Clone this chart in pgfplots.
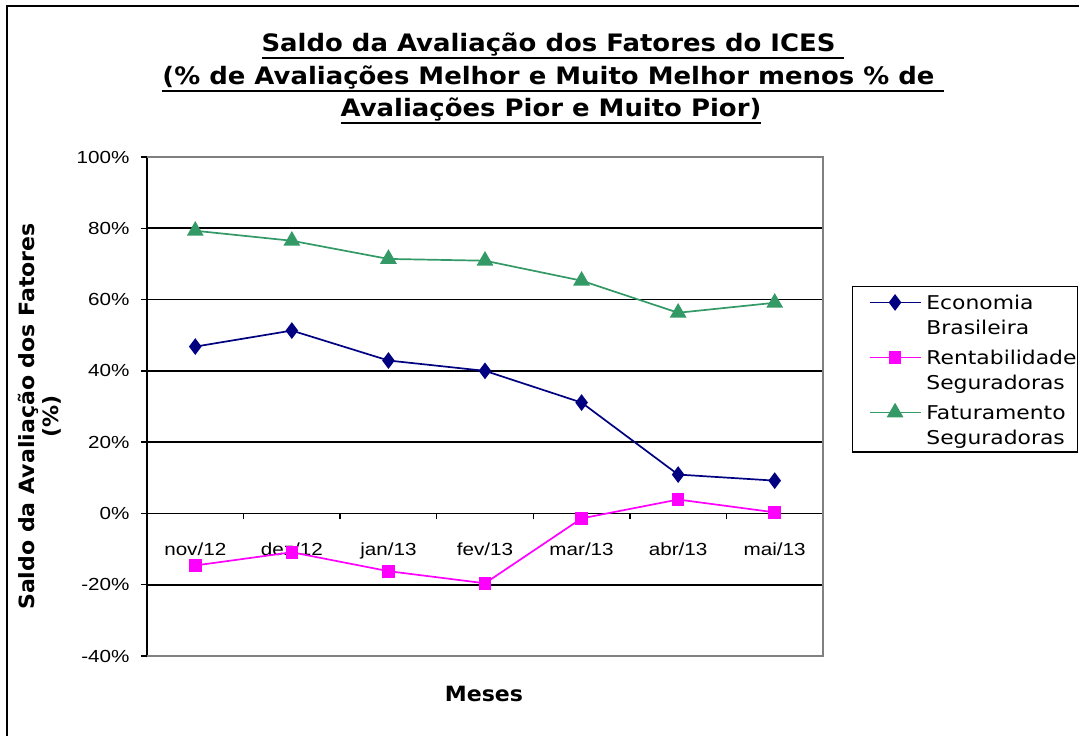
\documentclass[border=0pt]{standalone}
\usepackage{fontspec}
\usepackage{pgfplots}
\pgfplotsset{compat=1.18}
\setmainfont{DejaVu Sans}
\newfontfamily\titlefont[FakeStretch=1.08]{DejaVu Sans}
\newfontfamily\labfont[FakeStretch=1.05]{DejaVu Sans}
\newfontfamily\legfont[FakeStretch=1.15]{DejaVu Sans}
\newfontfamily\tickfont[FakeStretch=1.18]{Liberation Sans}
\definecolor{econ}{RGB}{0,0,128}
\definecolor{rent}{RGB}{255,0,255}
\definecolor{fat}{RGB}{51,153,102}
\newcommand\ul[1]{\setbox0\hbox{#1}\rlap{\rule[-7pt]{\wd0}{2pt}}\box0}
\begin{document}
\begin{tikzpicture}[x=1pt,y=1pt]
\useasboundingbox (0,0) rectangle (1079,736);
\draw[line width=2pt] (7,-10) -- (7,730) -- (1100,730);
\begin{scope}[font=\titlefont\bfseries\fontsize{24}{32.5}\selectfont]
\node[anchor=base] at (553,684) {\ul{Saldo da Avaliação dos Fatores do ICES\ }};
\node[anchor=base] at (553,651) {\ul{(\% de Avaliações Melhor e Muito Melhor menos \% de\ }};
\node[anchor=base] at (551,619) {\ul{Avaliações Pior e Muito Pior)}};
\end{scope}
\begin{axis}[
  at={(147pt,80pt)}, anchor=south west, scale only axis,
  width=676pt, height=499pt,
  xmin=-0.5, xmax=6.5, ymin=-40, ymax=100,
  axis x line=middle, axis y line=left,
  axis line style={-, black, line width=1.6pt},
  xtick={0,...,6},
  xticklabels={nov/12,dez/12,jan/13,fev/13,mar/13,abr/13,mai/13},
  major x tick style={draw=none},
  minor xtick={-0.5,0.5,...,6.5},
  minor x tick style={black,line width=1.3pt},
  ytick={-40,-20,...,100},
  yticklabels={-40\%,-20\%,0\%,20\%,40\%,60\%,80\%,100\%},
  ytick style={black,line width=1.3pt},
  tick align=outside, major tick length=6pt, minor tick length=6pt,
  ymajorgrids, major grid style={black,line width=1.6pt},
  ticklabel style={font=\tickfont\fontsize{17.5}{20}\selectfont},
  xticklabel style={yshift=-20pt},
  yticklabel style={xshift=-8pt},
  hide obscured x ticks=false, hide obscured y ticks=false,
  xlabel={Meses},
  ylabel={Saldo da Avaliação dos Fatores\\(\%)},
  every axis x label/.style={at={(axis description cs:0.4985,-0.076)}, anchor=center, font=\labfont\bfseries\fontsize{21}{24}\selectfont},
  every axis y label/.style={at={(axis description cs:-0.158,0.48)}, anchor=center, rotate=90, align=center, font=\labfont\bfseries\fontsize{21}{24}\selectfont},
  clip=false,
  legend cell align=left,
  legend image code/.code={\path (-15pt,12pt);\draw[#1,mark repeat=2,mark phase=2] plot coordinates {(0pt,12pt) (25.5pt,12pt) (51pt,12pt)};},
  legend style={at={(axis description cs:1.0429,0.7415)}, anchor=north west,
    draw=black, line width=1.4pt, inner xsep=1pt, inner ysep=4pt,
    nodes={inner xsep=0pt, inner ysep=1.75pt, align=left},
    column sep=5pt, row sep=7.5pt,
    font=\legfont\fontsize{19}{25}\selectfont},
]
\draw[gray, line width=1.6pt] (rel axis cs:0,1) -- (rel axis cs:1,1) -- (rel axis cs:1,0) -- (rel axis cs:0,0);
\addplot[econ, line width=1.7pt, mark=diamond*, mark size=7pt, mark options={solid}] coordinates {
 (0,46.8) (1,51.3) (2,42.9) (3,40.0) (4,31.1) (5,10.9) (6,9.2)};
\addlegendentry{Economia\strut\\Brasileira\strut}
\addplot[rent, line width=1.7pt, mark=square*, mark size=5.5pt, mark options={solid}] coordinates {
 (0,-14.6) (1,-10.9) (2,-16.2) (3,-19.6) (4,-1.4) (5,3.9) (6,0.3)};
\addlegendentry{Rentabilidade\strut\\Seguradoras\strut}
\addplot[fat, line width=1.7pt, mark=triangle*, mark size=8pt, mark options={solid}] coordinates {
 (0,79.3) (1,76.5) (2,71.4) (3,70.9) (4,65.3) (5,56.3) (6,59.1)};
\addlegendentry{Faturamento\strut\\Seguradoras\strut}
\end{axis}
\end{tikzpicture}
\end{document}
